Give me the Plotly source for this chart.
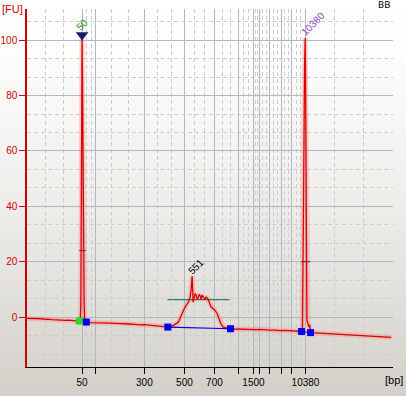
import plotly.graph_objects as go

# ---------------- data ----------------
# ladder sizes (bp) and their migration times (s)
ladder_bp = [50, 100, 300, 500, 700, 1000, 1500, 2000, 3000, 5000, 7000, 10380]
ladder_time = [22.80, 24.17, 29.03, 33.03, 36.03, 38.47, 39.93, 40.53, 41.53, 42.73, 43.73, 45.13]
ladder_labels = ["50", "", "300", "500", "700", "", "1500", "", "", "", "", "10380"]

time_range = [17.30, 53.87]
fu_range = [-17.9, 111.2]
fu_ticks = [0, 20, 40, 60, 80, 100]

# electropherogram (time s, fluorescence FU)
time_s = [
    17.30, 17.70, 18.10, 18.50, 18.80, 19.10, 19.40, 19.80, 20.10, 20.40, 20.60, 20.90,
    21.20, 21.50, 21.80, 22.20, 22.53, 22.63, 22.68, 22.70, 22.76, 22.80, 22.85, 22.92,
    22.99, 23.01, 23.06, 23.23, 23.60, 24.10, 24.60, 25.10, 25.60, 26.10, 26.60,
    27.10, 27.60, 28.10, 28.60, 29.10, 29.60, 30.10, 30.60, 31.00, 31.37, 31.60, 31.93,
    32.43, 32.70, 32.93, 33.20, 33.43, 33.60, 33.70, 33.80, 33.90, 34.00, 34.10, 34.20,
    34.30, 34.40, 34.50, 34.60, 34.70, 34.80, 34.90, 35.00, 35.10, 35.20, 35.30, 35.40,
    35.50, 35.70, 35.90, 36.10, 36.30, 36.50, 36.70, 36.90, 37.30, 37.63, 38.10, 38.60,
    39.10, 39.60, 40.10, 40.60, 41.10, 41.60, 42.10, 42.60, 43.10, 43.60, 44.10, 44.50,
    44.73, 44.82, 44.85, 44.93, 45.03, 45.10, 45.13, 45.17, 45.23, 45.27, 45.37, 45.47,
    45.53, 45.63, 46.10, 46.60, 47.10, 47.60, 48.10, 48.60, 49.10, 49.60, 50.10, 50.60,
    51.10, 51.60, 52.10, 52.60, 53.10, 53.70,
]
fluor = [
    -0.4, -0.4, -0.5, -0.6, -0.5, -0.7, -0.6, -0.8, -0.9, -0.8, -1.0, -1.1,
    -1.1, -1.0, -1.2, -1.3, -1.3, -0.5, 5.0, 30.0, 85.0, 100.5, 85.0, 33.0,
    30.0, 5.0, -1.2, -1.7, -1.9, -1.9, -2.0, -1.9, -2.1, -2.2, -2.2,
    -2.3, -2.4, -2.5, -2.7, -2.6, -2.8, -2.9, -3.0, -3.2, -3.5, -3.3, -2.9,
    -1.7, 0.7, 2.5, 4.3, 5.5, 7.3, 10.0, 14.8, 5.5, 7.0, 8.6, 8.0,
    6.4, 7.2, 8.3, 7.8, 6.4, 8.0, 7.6, 7.0, 6.4, 7.4, 7.0, 6.5,
    5.5, 3.7, 3.1, 2.5, 1.3, -0.8, -2.5, -3.5, -3.9, -4.1, -4.2, -4.3,
    -4.2, -4.4, -4.4, -4.3, -4.5, -4.6, -4.6, -4.8, -4.7, -4.9, -5.0, -5.0,
    -5.1, -4.0, 20.0, 42.0, 90.0, 100.7, 90.0, 42.0, 10.0, -1.0, -2.3, -3.5,
    -2.6, -5.5, -5.6, -5.7, -5.8, -5.9, -6.0, -6.2, -6.2, -6.4, -6.5, -6.6,
    -6.8, -6.8, -6.9, -7.1, -7.1, -7.2,
]

# peak regions (start / end of integration)
region_start_time = [22.53, 31.37, 44.73]
region_start_fu = [-1.3, -3.5, -5.1]
region_end_time = [23.23, 37.63, 45.63]
region_end_fu = [-1.7, -4.1, -5.5]

# level lines
level_fu = [24.1, 6.4, 20.1]
level_start = [22.52, 31.33, 44.70]
level_end = [23.17, 37.53, 45.60]
level_colors = ["#404a42", "#2a8560", "#404a42"]

# peak labels
peak_labels = ["50", "551", "10380"]
peak_label_time = [22.80, 34.17, 45.90]
peak_label_fu = [105.7, 18.5, 105.9]
peak_label_colors = ["#1a8a1a", "#000000", "#8a40d0"]

# lower marker flag
flag_time = [22.80]
flag_fu = [101.8]

# ---------------- figure ----------------
fig = go.Figure()

# background gradient (whole figure)
n_bands = 50
top_c = (255, 255, 255)
bot_c = (211, 208, 201)
for i in range(n_bands):
    f = (i / (n_bands - 1)) ** 1.4
    c = tuple(int(round(top_c[k] + (bot_c[k] - top_c[k]) * f)) for k in range(3))
    y1 = 1.03 - i * (1.115 / n_bands)
    y0 = y1 - 1.115 / n_bands - 0.002
    fig.add_shape(type="rect", xref="paper", yref="paper", x0=-0.1, x1=1.1,
                  y0=y0, y1=y1, fillcolor="rgb(%d,%d,%d)" % c,
                  line=dict(width=0), layer="below")

# glow
fig.add_trace(go.Scatter(x=time_s, y=fluor, mode="lines",
                         line=dict(color="rgba(255,130,130,0.35)", width=5),
                         hoverinfo="skip", showlegend=False))
# level lines
for fu, x0, x1, col in zip(level_fu, level_start, level_end, level_colors):
    fig.add_trace(go.Scatter(x=[x0, x1], y=[fu, fu], mode="lines",
                             line=dict(color=col, width=1.2), showlegend=False))
# main trace
fig.add_trace(go.Scatter(x=time_s, y=fluor, mode="lines",
                         line=dict(color="#dd0000", width=1.3), showlegend=False))
# baselines of regions
for xs, ys, xe, ye in zip(region_start_time, region_start_fu, region_end_time, region_end_fu):
    fig.add_trace(go.Scatter(x=[xs, xe], y=[ys, ye], mode="lines",
                             line=dict(color="#0000dd", width=1.2), showlegend=False))
# region markers
start_colors = ["#22dd22", "#0000ee", "#0000ee"]
fig.add_trace(go.Scatter(x=region_start_time, y=region_start_fu, mode="markers",
                         marker=dict(symbol="square", size=7, color=start_colors,
                                     line=dict(width=0)), showlegend=False))
fig.add_trace(go.Scatter(x=region_end_time, y=region_end_fu, mode="markers",
                         marker=dict(symbol="square", size=7, color="#0000ee",
                                     line=dict(width=0)), showlegend=False))
# marker flag
fig.add_trace(go.Scatter(x=flag_time, y=flag_fu, mode="markers",
                         marker=dict(symbol="triangle-down", size=11, color="#1c1c66",
                                     line=dict(width=0)), showlegend=False))

for txt, xt, yt, col in zip(peak_labels, peak_label_time, peak_label_fu, peak_label_colors):
    fig.add_annotation(x=xt, y=yt, text=txt, showarrow=False, textangle=-45,
                       font=dict(family="Liberation Sans", size=10, color=col),
                       xanchor="center", yanchor="middle")

# minor grid positions: thirds between major x positions
xs_major = [time_range[0]] + ladder_time + [time_range[1]]
minor_x = []
for a, b in zip(xs_major[:-1], xs_major[1:]):
    minor_x += [a + (b - a) / 3, a + 2 * (b - a) / 3]

fig.add_annotation(xref="paper", yref="paper", x=-0.0738, y=1.0, text="[FU]",
                   showarrow=False, xanchor="left", yanchor="middle",
                   font=dict(family="Liberation Sans", size=11, color="#cc0000"))
fig.add_annotation(xref="paper", yref="paper", x=0.974, y=-0.037, text="[bp]",
                   showarrow=False, xanchor="left", yanchor="middle",
                   font=dict(family="Liberation Sans", size=11, color="#000000"))
fig.add_annotation(xref="paper", yref="paper", x=0.9745, y=1.0098, text="BB",
                   showarrow=False, xanchor="center", yanchor="middle",
                   font=dict(family="DejaVu Sans", size=9, color="#000000"))

fig.update_layout(
    width=406, height=396,
    margin=dict(l=27, r=13, t=9, b=29),
    paper_bgcolor="white",
    plot_bgcolor="rgba(0,0,0,0)",
    showlegend=False,
    font=dict(family="Liberation Sans", size=10),
    xaxis=dict(
        range=time_range, tickmode="array", tickvals=ladder_time, ticktext=ladder_labels,
        ticks="outside", ticklen=6, tickcolor="#000000", tickwidth=1, automargin=False,
        showline=True, linecolor="#000000", linewidth=1,
        showgrid=True, gridcolor="#b2b7c4", gridwidth=1, zeroline=False,
        tickfont=dict(family="Liberation Sans", size=10, color="#000000"),
        minor=dict(tickmode="array", tickvals=minor_x, showgrid=True,
                   gridcolor="#cdcdcd", griddash="4px,3px", ticks=""),
    ),
    yaxis=dict(
        range=fu_range, tickmode="array", tickvals=fu_ticks, automargin=False,
        ticks="outside", ticklen=6, tickcolor="#cc0000", tickwidth=1,
        showline=True, linecolor="#cc0000", linewidth=1.5,
        showgrid=True, gridcolor="#b2b7c4", gridwidth=1, zeroline=False,
        tickfont=dict(family="Liberation Sans", size=10, color="#cc0000"),
        minor=dict(tick0=0, dtick=20 / 3, showgrid=True,
                   gridcolor="#cdcdcd", griddash="4px,3px", ticks=""),
    ),
)

fig.write_html("out.html", config={"displayModeBar": False},
               post_script="document.body.style.margin='0';")
